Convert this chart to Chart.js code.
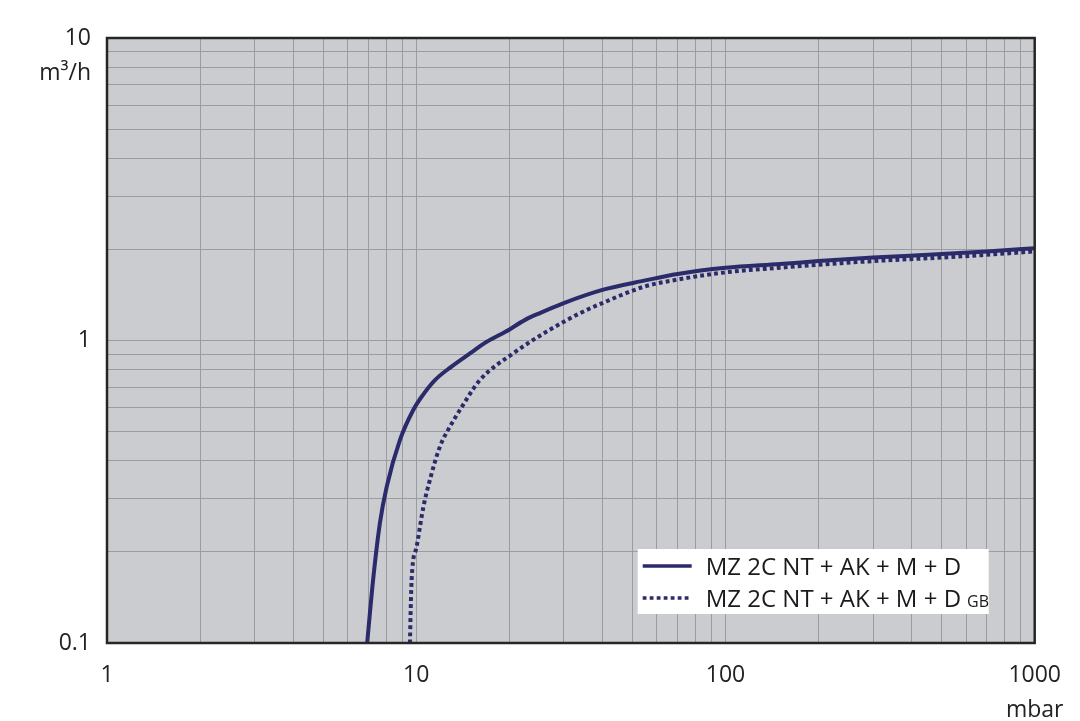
<!DOCTYPE html>
<html><head><meta charset="utf-8">
<script src="https://cdn.jsdelivr.net/npm/chart.js@4.4.1/dist/chart.umd.min.js"></script>
<style>html,body{margin:0;padding:0;background:#fff}#wrap{width:1080px;height:721px;position:relative}</style>
</head><body><div id="wrap"><canvas id="c" width="1080" height="721"></canvas></div>
<script>
// ---- data ----
const pressureSolid = [6.94, 7.25, 7.63, 8.03, 8.86, 9.78, 10.5, 11.5, 13, 15, 16.9, 19.5, 22.5, 25, 30, 40, 55, 70, 100, 150, 200, 300, 500, 700, 1000];
const flowSolid     = [0.1, 0.161, 0.249, 0.329, 0.469, 0.589, 0.66, 0.74, 0.82, 0.91, 0.99, 1.07, 1.17, 1.23, 1.33, 1.47, 1.58, 1.66, 1.74, 1.79, 1.83, 1.88, 1.93, 1.97, 2.02];
const pressureDotted = [9.54, 9.66, 10.03, 10.55, 11.07, 11.93, 12.85, 13.84, 16.07, 20.6, 26.4, 33.8, 40, 55, 70, 100, 150, 200, 300, 500, 700, 1000];
const flowDotted     = [0.1, 0.161, 0.208, 0.282, 0.346, 0.446, 0.519, 0.589, 0.74, 0.907, 1.07, 1.23, 1.33, 1.51, 1.59, 1.68, 1.74, 1.78, 1.83, 1.88, 1.92, 1.97];
const seriesNames = ['MZ 2C NT + AK + M + D', 'MZ 2C NT + AK + M + D'];
const seriesSuffix = ['', 'GB'];
const xMajor = [1, 10, 100, 1000];
const xTickLabels = ['1', '10', '100', '1000'];
const yMajor = [0.1, 1, 10];
const yTickLabels = ['0.1', '1', '10'];
const xUnit = 'mbar';
const yUnit = 'm³/h';

const lineColor = '#2b2a6a';
const FONT = '"Open Sans", sans-serif';

function logTicks(minExp, maxExp) {
  const out = [];
  for (let e = minExp; e < maxExp; e++) {
    for (let k = 1; k <= 9; k++) out.push(Number((k * Math.pow(10, e)).toPrecision(3)));
  }
  out.push(Number(Math.pow(10, maxExp).toPrecision(3)));
  return out;
}

function labelFor(v, majors, labels) {
  for (let i = 0; i < majors.length; i++) {
    if (Math.abs(v - majors[i]) / majors[i] < 1e-6) return labels[i];
  }
  return '';
}

const decor = {
  id: 'decor',
  beforeDraw(chart) {
    const {ctx, chartArea: a} = chart;
    ctx.save();
    ctx.fillStyle = '#cacccf';
    ctx.fillRect(a.left, a.top, a.right - a.left, a.bottom - a.top);
    ctx.restore();
  },
  afterDraw(chart) {
    const {ctx, chartArea: a} = chart;
    ctx.save();
    // frame
    ctx.strokeStyle = '#262626';
    ctx.lineWidth = 2.5;
    ctx.strokeRect(a.left, a.top, a.right - a.left, a.bottom - a.top);
    // units
    ctx.fillStyle = '#222';
    ctx.font = '23px ' + FONT;
    ctx.textAlign = 'right';
    ctx.textBaseline = 'middle';
    ctx.fillText(yUnit, a.left - 16, a.top + 35);
    ctx.textAlign = 'center';
    ctx.fillText(xUnit, a.right, a.bottom + 67);
    // legend
    const bx = a.right - 397, by = a.bottom - 94, bw = 351, bh = 65;
    ctx.fillStyle = '#ffffff';
    ctx.fillRect(bx, by, bw, bh);
    const rows = [by + 17, by + 49];
    chart.data.datasets.forEach((ds, i) => {
      const y = rows[i];
      ctx.strokeStyle = ds.borderColor;
      ctx.lineWidth = 3.5;
      ctx.setLineDash(ds.borderDash || []);
      ctx.lineCap = 'butt';
      ctx.beginPath();
      ctx.moveTo(bx + 5, y);
      ctx.lineTo(bx + 54, y);
      ctx.stroke();
      ctx.setLineDash([]);
      ctx.fillStyle = '#1a1a1a';
      ctx.font = '24px ' + FONT;
      ctx.textAlign = 'left';
      ctx.textBaseline = 'alphabetic';
      const tx = bx + 68, base = y + 9;
      ctx.fillText(seriesNames[i], tx, base);
      if (seriesSuffix[i]) {
        const w = ctx.measureText(seriesNames[i]).width;
        ctx.font = '16px ' + FONT;
        ctx.fillText(seriesSuffix[i], tx + w + 6, base);
      }
    });
    ctx.restore();
  }
};

function build() {
  new Chart(document.getElementById('c'), {
    type: 'line',
    data: {
      datasets: [
        {
          label: seriesNames[0],
          data: pressureSolid.map((x, i) => ({x, y: flowSolid[i]})),
          borderColor: lineColor,
          borderWidth: 4,
          pointRadius: 0,
          cubicInterpolationMode: 'monotone',
          fill: false
        },
        {
          label: seriesNames[1] + ' ' + seriesSuffix[1],
          data: pressureDotted.map((x, i) => ({x, y: flowDotted[i]})),
          borderColor: lineColor,
          borderWidth: 4,
          borderDash: [3.8, 3.2],
          borderCapStyle: 'butt',
          pointRadius: 0,
          cubicInterpolationMode: 'monotone',
          fill: false
        }
      ]
    },
    options: {
      responsive: false,
      animation: false,
      devicePixelRatio: 1,
      layout: {padding: {top: 38, right: 45, left: 0, bottom: 0}},
      plugins: {legend: {display: false}, tooltip: {enabled: false}},
      scales: {
        x: {
          type: 'logarithmic',
          min: 1, max: 1000,
          afterBuildTicks: s => { s.ticks = logTicks(0, 3).map(v => ({value: v})); },
          afterFit: s => { s.height = 78; },
          grid: {color: '#9a9c9f', lineWidth: 1, drawTicks: false},
          border: {display: false},
          ticks: {
            autoSkip: false, maxRotation: 0, padding: 19,
            color: '#222', font: {family: FONT, size: 23},
            callback: v => labelFor(v, xMajor, xTickLabels)
          }
        },
        y: {
          type: 'logarithmic',
          min: 0.1, max: 10,
          afterBuildTicks: s => { s.ticks = logTicks(-1, 1).map(v => ({value: v})); },
          afterFit: s => { s.width = 107; },
          grid: {color: '#9a9c9f', lineWidth: 1, drawTicks: false},
          border: {display: false},
          ticks: {
            autoSkip: false, padding: 16,
            color: '#222', font: {family: FONT, size: 23},
            callback: v => labelFor(v, yMajor, yTickLabels)
          }
        }
      }
    },
    plugins: [decor]
  });
}
if (document.fonts && document.fonts.load) {
  Promise.all([document.fonts.load('23px "Open Sans"'), document.fonts.load('16px "Open Sans"')]).then(build, build);
} else build();
</script>
</body></html>
